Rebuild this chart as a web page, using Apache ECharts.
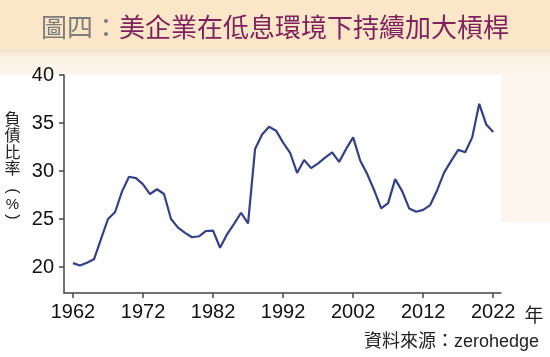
<!DOCTYPE html>
<html>
<head>
<meta charset="utf-8">
<script src="https://cdn.jsdelivr.net/npm/echarts@6/dist/echarts.min.js"></script>
<style>
html,body{margin:0;padding:0;background:#fff;}
#c{width:550px;height:357px;}
</style>
</head>
<body>
<div id="c"></div>
<script>
// ---- data ----
var years = [1962,1963,1964,1965,1966,1967,1968,1969,1970,1971,1972,1973,1974,1975,1976,1977,1978,1979,1980,1981,
             1982,1983,1984,1985,1986,1987,1988,1989,1990,1991,1992,1993,1994,1995,1996,1997,1998,1999,2000,2001,
             2002,2003,2004,2005,2006,2007,2008,2009,2010,2011,2012,2013,2014,2015,2016,2017,2018,2019,2020,2021,2022];
var debtRatio = [20.4,20.15,20.45,20.8,22.9,25.0,25.7,27.85,29.4,29.25,28.6,27.6,28.1,27.6,25.0,24.1,23.55,23.1,23.2,23.75,
                 23.78,22.0,23.4,24.5,25.65,24.55,32.3,33.8,34.6,34.2,32.95,31.9,29.8,31.15,30.3,30.8,31.4,31.95,30.95,32.3,
                 33.5,31.1,29.7,28.0,26.1,26.65,29.15,27.9,26.1,25.75,25.95,26.45,28.0,29.85,31.05,32.2,31.95,33.5,37.0,34.85,34.05];
var xTickLabels = [1962,1972,1982,1992,2002,2012,2022];
var yTickLabels = [20,25,30,35,40];
var titlePrefix = '圖四：';
var titleMain = '美企業在低息環境下持續加大槓桿';
var yAxisNameChars = ['負','債','比','率'];
var xUnit = '年';
var sourceText = '資料來源：zerohedge';

var seriesData = years.map(function(y,i){return [y, debtRatio[i]];});

var chart = echarts.init(document.getElementById('c'), null, {renderer:'canvas'});
var cjk = '"Noto Sans CJK TC","Noto Sans CJK SC",sans-serif';
var lat = '"Liberation Sans",Arial,sans-serif';
var mixed = '"Liberation Sans","Noto Sans CJK TC",sans-serif';

var graphics = [
  {type:'rect', z:-10, silent:true, shape:{x:0,y:0,width:550,height:49}, style:{fill:'#fbe7c7'}},
  {type:'rect', z:-10, silent:true, shape:{x:0,y:49,width:550,height:26},
   style:{fill:new echarts.graphic.LinearGradient(0,0,0,1,[{offset:0,color:'#f3e2cc'},{offset:0.35,color:'#fcf2e6'},{offset:1,color:'#fdf6ee'}])}},
  {type:'rect', z:-10, silent:true, shape:{x:501,y:75,width:49,height:147}, style:{fill:'#fdf6ee'}}
];
var yNameY = [118.5,135,151.5,168];
yAxisNameChars.forEach(function(ch,i){
  graphics.push({type:'text', silent:true, x:12.5, y:yNameY[i],
    style:{text:ch, font:'16px '+cjk, fill:'#222', align:'center', verticalAlign:'middle'}});
});
graphics.push({type:'text', silent:true, x:12.5, y:191, rotation:-Math.PI/2,
  style:{text:'(', font:'16px '+lat, fill:'#222', align:'center', verticalAlign:'middle'}});
graphics.push({type:'text', silent:true, x:12.5, y:205, 
  style:{text:'%', font:'15px '+lat, fill:'#222', align:'center', verticalAlign:'middle'}});
graphics.push({type:'text', silent:true, x:12.5, y:217, rotation:-Math.PI/2,
  style:{text:')', font:'16px '+lat, fill:'#222', align:'center', verticalAlign:'middle'}});
graphics.push({type:'text', silent:true, x:534, y:315,
  style:{text:xUnit, font:'19px '+cjk, fill:'#222', align:'center', verticalAlign:'middle'}});
graphics.push({type:'text', silent:true, x:539, y:342,
  style:{text:sourceText, font:'18px '+mixed, fill:'#222', align:'right', verticalAlign:'middle'}});

var option = {
  animation:false,
  backgroundColor:'#ffffff',
  title:{
    left:36, top:9,
    text:'{a|'+titlePrefix+'}{b|'+titleMain+'}',
    textStyle:{
      rich:{
        a:{fontFamily:cjk, fontSize:26, fontWeight:'normal', color:'#7d7d7d'},
        b:{fontFamily:cjk, fontSize:26, fontWeight:'normal', color:'#7e225d'}
      }
    }
  },
  graphic:graphics,
  grid:{left:64, right:49, top:75, bottom:64, containLabel:false},
  xAxis:{
    type:'value', min:1960.72, max:2023.11,
    axisLine:{show:true, lineStyle:{color:'#444', width:1.5}},
    axisTick:{show:true, inside:false, length:5, customValues:xTickLabels, lineStyle:{color:'#444', width:1.5}},
    axisLabel:{customValues:xTickLabels, margin:9, color:'#111', fontSize:20, fontFamily:lat,
      formatter:function(v){return String(Math.round(v));}},
    splitLine:{show:false}
  },
  yAxis:{
    type:'value', min:17.29, max:40,
    axisLine:{show:true, lineStyle:{color:'#444', width:1.5}},
    axisTick:{show:true, inside:false, length:5, customValues:yTickLabels, lineStyle:{color:'#444', width:1.5}},
    axisLabel:{customValues:yTickLabels, margin:10, color:'#111', fontSize:20, fontFamily:lat},
    splitLine:{show:false}
  },
  series:[{
    type:'line', data:seriesData, showSymbol:false, symbol:'none',
    lineStyle:{color:'#33408c', width:2.2}, clip:false
  }]
};
chart.setOption(option);
</script>
</body>
</html>
